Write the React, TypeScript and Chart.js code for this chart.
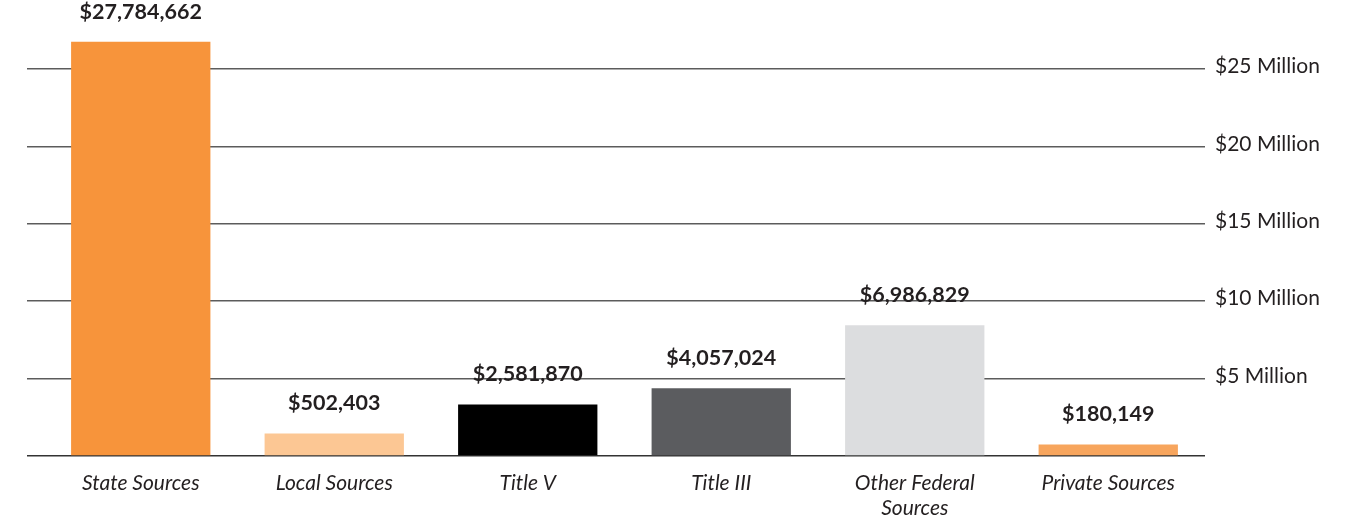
import React, { useEffect, useRef } from "react";
import { Chart, registerables } from "chart.js";

Chart.register(...registerables);

// Categories (multi-line label as array)
const categories: (string | string[])[] = [
  "State Sources",
  "Local Sources",
  "Title V",
  "Title III",
  ["Other Federal", "Sources"],
  "Private Sources",
];

// Bar heights as drawn in the picture (millions of dollars)
const barHeightsMillions: number[] = [26.76, 1.46, 3.33, 4.37, 8.45, 0.74];

// Value labels printed above each bar
const valueLabels: string[] = [
  "$27,784,662",
  "$502,403",
  "$2,581,870",
  "$4,057,024",
  "$6,986,829",
  "$180,149",
];

const barColors: string[] = ["#F7943B", "#FCC794", "#000000", "#5B5C5F", "#DCDDDF", "#F7A55D"];

// Y axis ticks (millions)
const yTickValues: number[] = [0, 5, 10, 15, 20, 25];
const yMax = 28;

const TEXT = "#231F20";
const GRID = "#5c5c5c";
const BASE = "#333333";

const gridColor = (ctx: any) => (ctx.tick && ctx.tick.value === 0 ? BASE : GRID);

const valueLabelPlugin = {
  id: "valueLabels",
  afterDatasetsDraw(chart: any) {
    const meta = chart.getDatasetMeta(0);
    const ctx = chart.ctx;
    ctx.save();
    ctx.font = "bold 21.5px Lato";
    ctx.fillStyle = TEXT;
    ctx.textAlign = "center";
    ctx.textBaseline = "middle";
    meta.data.forEach((bar: any, i: number) => {
      ctx.fillText(valueLabels[i], bar.x, bar.y - 30);
    });
    ctx.restore();
  },
};

export default function App() {
  const canvasRef = useRef<HTMLCanvasElement | null>(null);

  useEffect(() => {
    document.body.style.margin = "0";
    const canvas = canvasRef.current;
    if (!canvas) return;
    const chart = new Chart(canvas, {
      type: "bar",
      data: {
        labels: categories as any,
        datasets: [
          {
            data: barHeightsMillions,
            backgroundColor: barColors,
            borderWidth: 0,
            categoryPercentage: 1,
            barPercentage: 0.72,
            yAxisID: "y",
          },
        ],
      },
      options: {
        responsive: false,
        animation: false,
        layout: { padding: { top: 20, left: 0, right: 0, bottom: 0 } },
        plugins: {
          legend: { display: false },
          tooltip: { enabled: false },
        },
        scales: {
          x: {
            grid: { display: false, drawTicks: false, tickLength: 0 },
            border: { display: false },
            ticks: {
              color: TEXT,
              font: { family: "Lato", size: 21, style: "italic", lineHeight: 1.22 },
              padding: 14,
              maxRotation: 0,
              autoSkip: false,
            },
            afterFit: (scale: any) => {
              scale.height = 65;
            },
          },
          yL: {
            position: "left",
            min: 0,
            max: yMax,
            afterBuildTicks: (scale: any) => {
              scale.ticks = yTickValues.map((v) => ({ value: v }));
            },
            grid: {
              drawOnChartArea: false,
              drawTicks: true,
              tickLength: 17,
              color: gridColor,
              lineWidth: 1.5,
            },
            border: { display: false },
            ticks: { display: false },
            afterFit: (scale: any) => {
              scale.width = 44;
            },
          },
          y: {
            position: "right",
            min: 0,
            max: yMax,
            afterBuildTicks: (scale: any) => {
              scale.ticks = yTickValues.map((v) => ({ value: v }));
            },
            grid: {
              drawOnChartArea: true,
              drawTicks: false,
              color: gridColor,
              lineWidth: 1.5,
            },
            border: { display: false },
            ticks: {
              color: TEXT,
              font: { family: "Lato", size: 21 },
              padding: 10,
              labelOffset: -2.5,
              callback: (v: any) => (Number(v) === 0 ? "" : `$${v} Million`),
            },
            afterFit: (scale: any) => {
              scale.width = 147;
            },
          },
        },
      },
      plugins: [valueLabelPlugin],
    });
    return () => chart.destroy();
  }, []);

  return (
    <div style={{ width: 1352, height: 521 }}>
      <canvas ref={canvasRef} width={1352} height={521} style={{ display: "block" }} />
    </div>
  );
}
